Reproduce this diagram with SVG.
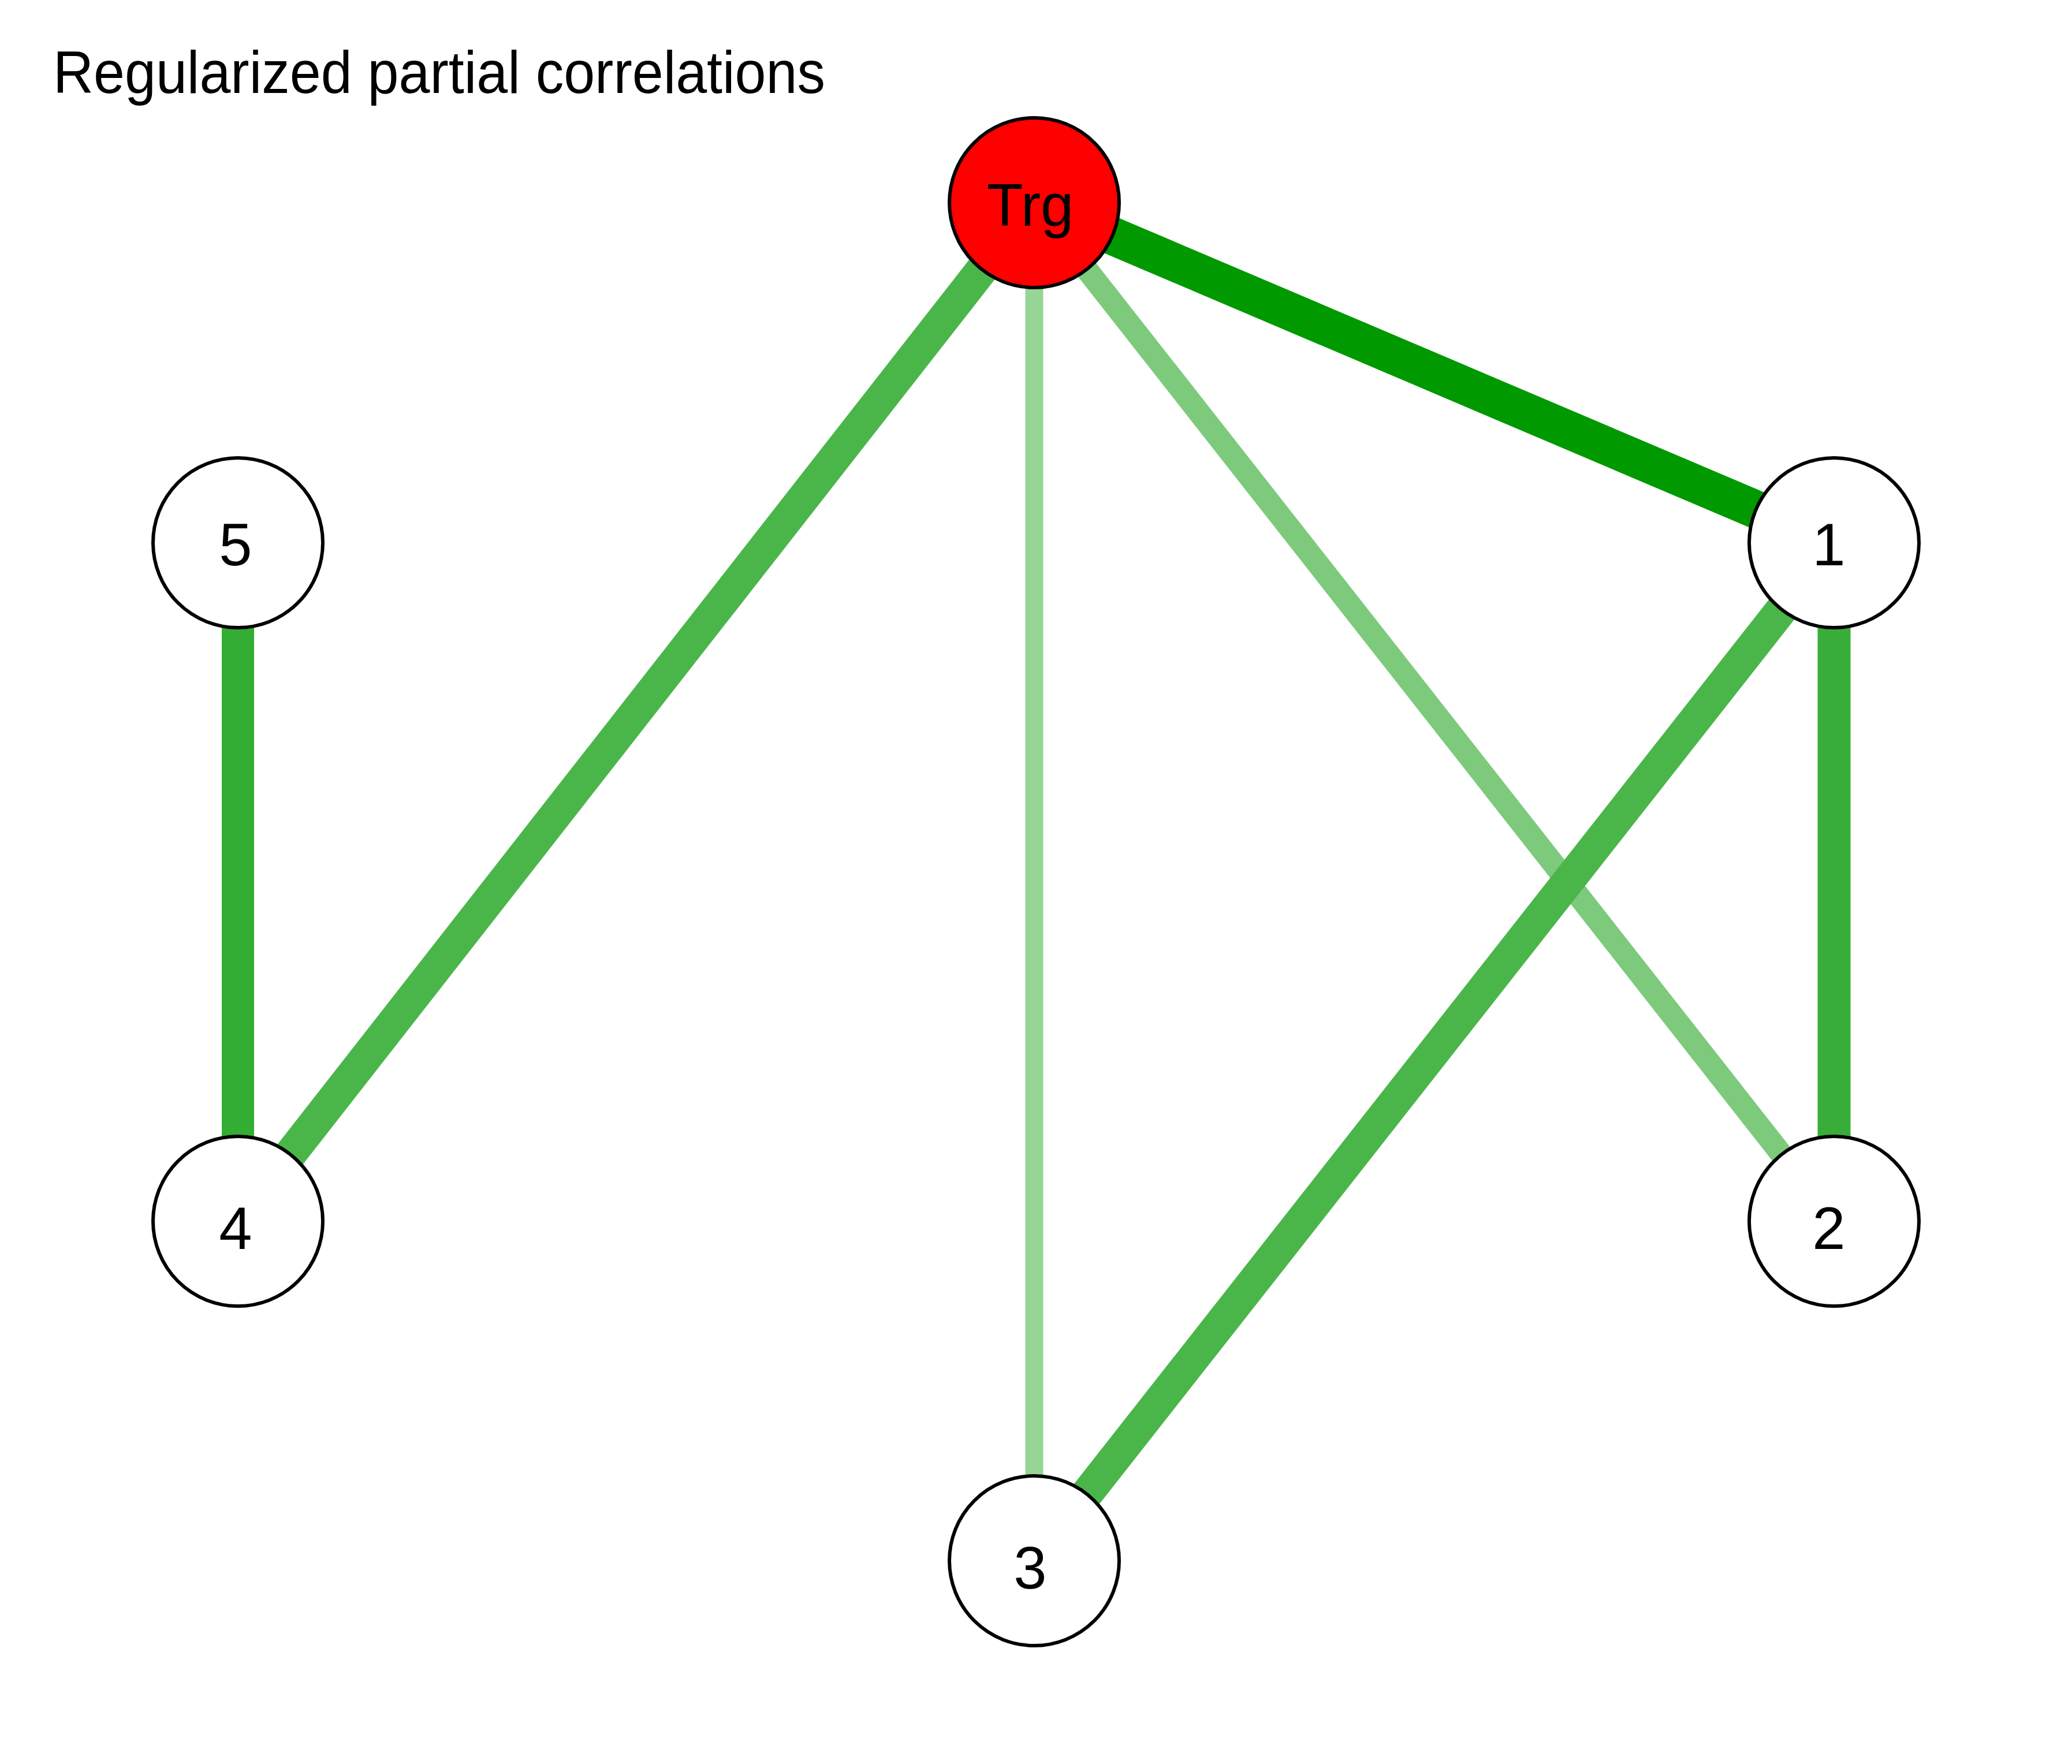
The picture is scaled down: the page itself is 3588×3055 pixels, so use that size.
<svg xmlns="http://www.w3.org/2000/svg" width="3588" height="3055" viewBox="0 0 3588 3055">
<style>
.node{fill:#FFFFFF;stroke:#000000;stroke-width:6}
.lbl{font-family:"Liberation Sans",Arial,sans-serif;font-size:103px;fill:#000000;text-anchor:middle}
.title{font-family:"Liberation Sans",Arial,sans-serif;font-size:103px;fill:#000000}
.e{fill:none;stroke-linecap:butt}
</style>
<rect x="0" y="0" width="3588" height="3055" fill="#FFFFFF"/>
<text class="title" x="92" y="161" textLength="1337" lengthAdjust="spacingAndGlyphs">Regularized partial correlations</text>
<g id="edges">
<line class="e" x1="1791" y1="351" x2="3176" y2="940" stroke="#009900" stroke-width="66"/>
<line class="e" x1="1791" y1="351" x2="412" y2="2115" stroke="#4AB64A" stroke-width="56"/>
<line class="e" x1="1791" y1="351" x2="1791" y2="2703" stroke="#96D594" stroke-width="31"/>
<line class="e" x1="1791" y1="351" x2="3176" y2="2115" stroke="#7DCA7D" stroke-width="39"/>
<line class="e" x1="3176" y1="940" x2="1791" y2="2703" stroke="#4AB64A" stroke-width="56"/>
<line class="e" x1="3176" y1="940" x2="3176" y2="2115" stroke="#39AD39" stroke-width="57"/>
<line class="e" x1="412" y1="940" x2="412" y2="2115" stroke="#33AD33" stroke-width="56"/>
</g>
<g id="node-Trg">
<circle cx="1791" cy="351" r="147" fill="#FF0000" stroke="#000000" stroke-width="6"/>
<text class="lbl" x="1784" y="391">Trg</text>
</g>
<g id="node-1">
<circle class="node" cx="3176" cy="940" r="147"/>
<text class="lbl" x="3167" y="979">1</text>
</g>
<g id="node-2">
<circle class="node" cx="3176" cy="2115" r="147"/>
<text class="lbl" x="3167" y="2163">2</text>
</g>
<g id="node-3">
<circle class="node" cx="1791" cy="2703" r="147"/>
<text class="lbl" x="1784" y="2751">3</text>
</g>
<g id="node-4">
<circle class="node" cx="412" cy="2115" r="147"/>
<text class="lbl" x="408" y="2163">4</text>
</g>
<g id="node-5">
<circle class="node" cx="412" cy="940" r="147"/>
<text class="lbl" x="408" y="979">5</text>
</g>
</svg>
